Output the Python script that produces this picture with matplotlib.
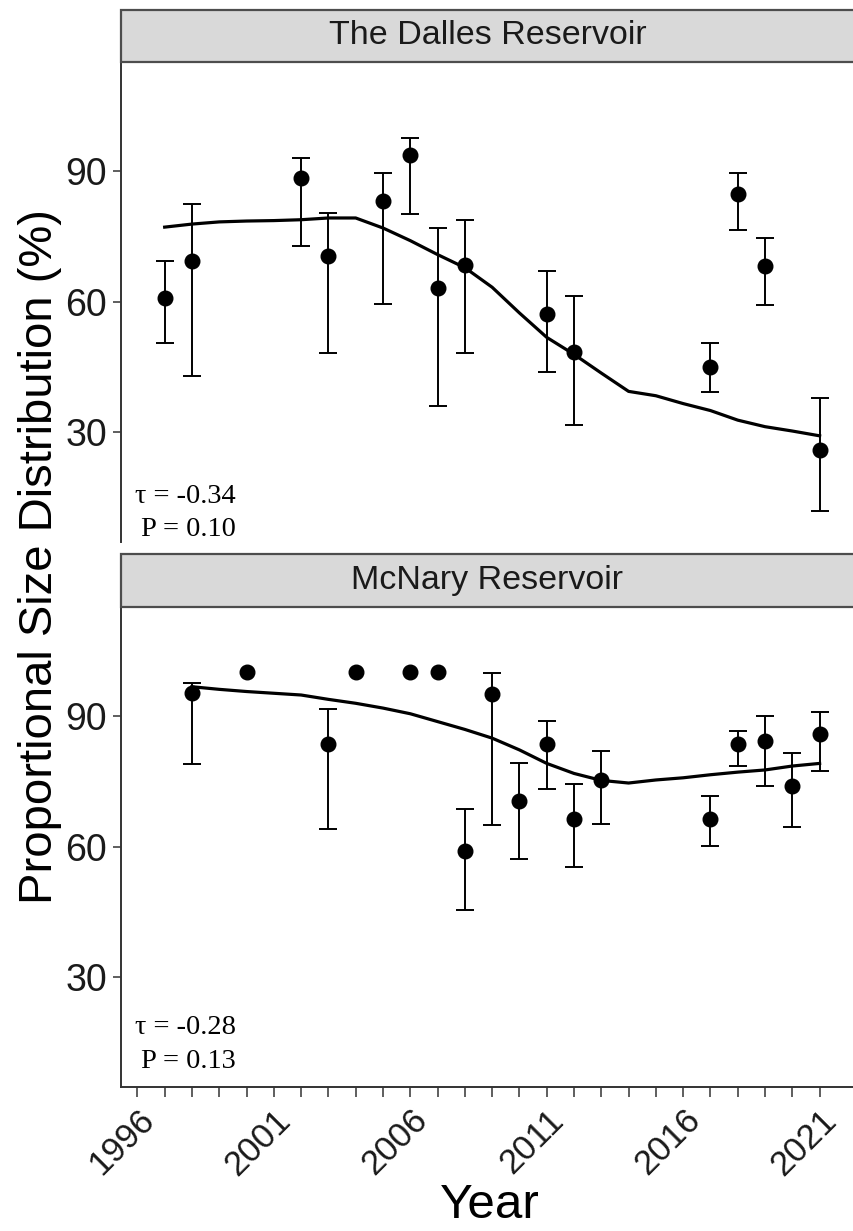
import numpy as np
import matplotlib
matplotlib.use("Agg")
import matplotlib.pyplot as plt
from matplotlib.patches import Rectangle

# ---------------- data ----------------
years_td = [1997, 1998, 2002, 2003, 2005, 2006, 2007, 2008, 2011, 2012, 2017, 2018, 2019, 2021]
psd_td = [60.9, 69.3, 88.4, 70.4, 83.0, 93.7, 63.2, 68.5, 57.2, 48.5, 45.0, 84.6, 68.1, 26.0]
lo_td = [50.4, 43.0, 72.7, 48.1, 59.4, 80.0, 36.1, 48.1, 43.9, 31.7, 39.3, 76.5, 59.2, 11.9]
hi_td = [69.3, 82.4, 92.9, 80.3, 89.5, 97.5, 76.9, 78.8, 67.0, 61.3, 50.6, 89.5, 74.6, 37.8]

smooth_years_td = list(range(1997, 2022))
smooth_td = [77.1, 77.8, 78.3, 78.5, 78.6, 78.8, 79.2, 79.2, 76.9, 74.0, 70.8, 67.8, 63.3,
             57.4, 51.8, 47.9, 43.6, 39.4, 38.4, 36.6, 35.0, 32.8, 31.3, 30.3, 29.2]

years_mc = [1998, 2000, 2003, 2004, 2006, 2007, 2008, 2009, 2010, 2011, 2012, 2013, 2017, 2018, 2019, 2020, 2021]
psd_mc = [95.3, 100, 83.5, 100, 100, 100, 59.1, 95.0, 70.5, 83.5, 66.4, 75.2, 66.4, 83.5, 84.3, 74.0, 85.8]
lo_mc = [79.0, np.nan, 64.1, np.nan, np.nan, np.nan, 45.5, 65.0, 57.2, 73.2, 55.3, 65.2, 60.2, 78.6, 74.0, 64.5, 77.4]
hi_mc = [97.6, np.nan, 91.5, np.nan, np.nan, np.nan, 68.6, 99.9, 79.3, 88.9, 74.4, 82.0, 71.7, 86.6, 90.0, 81.6, 90.8]

smooth_years_mc = list(range(1998, 2022))
smooth_mc = [96.7, 96.1, 95.6, 95.2, 94.8, 93.8, 92.9, 91.8, 90.5, 88.7, 86.9, 84.9, 82.2,
             79.1, 76.8, 75.2, 74.6, 75.3, 75.8, 76.5, 77.1, 77.6, 78.5, 79.1]

panel_titles = ["The Dalles Reservoir", "McNary Reservoir"]
tau_labels = ["\u03c4 = -0.34", "\u03c4 = -0.28"]
p_labels = ["P = 0.10", "P = 0.13"]
y_ticks = [30, 60, 90]
x_label_years = [1996, 2001, 2006, 2011, 2016, 2021]

# ---------------- layout ----------------
W, H = 854, 1231
fig = plt.figure(figsize=(W / 100, H / 100), dpi=100)
plt.rcParams['font.family'] = ['Liberation Sans', 'DejaVu Sans']

left_px, right_px = 121, 856
panels_px = [(62, 541.7), (607, 1086.7)]
strips_px = [(10, 62), (554, 607)]

def fx(px):
    return px / W

def fy(py):
    return 1 - py / H

xlim = (1995.40, 1995.40 + (right_px - left_px) / 27.29)
ylim = (4.9, 115.0)

series = [
    (years_td, psd_td, lo_td, hi_td, smooth_years_td, smooth_td),
    (years_mc, psd_mc, lo_mc, hi_mc, smooth_years_mc, smooth_mc),
]
annot_y = [(15.2, 7.7), (18.4, 10.6)]

axes = []
for i, (top, bot) in enumerate(panels_px):
    ax = fig.add_axes([fx(left_px), fy(bot), fx(right_px - left_px), (bot - top) / H])
    axes.append(ax)
    yrs, val, lo, hi, syr, sval = series[i]
    yrs_a = np.array(yrs, float)
    val_a = np.array(val, float)
    lo_a = np.array(lo, float)
    hi_a = np.array(hi, float)
    m = ~np.isnan(lo_a)
    ax.errorbar(yrs_a[m], val_a[m], yerr=[val_a[m] - lo_a[m], hi_a[m] - val_a[m]],
                fmt='none', ecolor='black', elinewidth=1.4, capsize=6.5, capthick=1.4, zorder=2)
    ax.plot(syr, sval, color='black', lw=2.3, zorder=3)
    ax.plot(yrs_a, val_a, 'o', color='black', markersize=10.5, zorder=4)

    ax.set_xlim(*xlim)
    ax.set_ylim(*ylim)
    ax.set_yticks(y_ticks)
    ax.set_yticklabels([str(t) for t in y_ticks], fontsize=27, color='#1a1a1a')
    ax.tick_params(axis='y', length=6, width=1.1, color='#333333', pad=4)
    ax.spines['top'].set_visible(False)
    ax.spines['right'].set_visible(False)
    ax.spines['left'].set_color('#333333')
    ax.spines['left'].set_linewidth(1.4)
    ax.set_xticks(list(range(1996, 2022)))
    if i == 0:
        ax.spines['bottom'].set_visible(False)
        ax.tick_params(axis='x', bottom=False, labelbottom=False)
    else:
        ax.spines['bottom'].set_color('#333333')
        ax.spines['bottom'].set_linewidth(1.4)
        ax.set_xticklabels([str(y) if y in x_label_years else '' for y in range(1996, 2022)],
                           rotation=45, ha='right', va='top', rotation_mode='anchor',
                           fontsize=25, color='#1a1a1a')
        ax.tick_params(axis='x', length=7, width=1.1, color='#333333', pad=5)

    ax.text(1999.62, annot_y[i][0], tau_labels[i], ha='right', va='center',
            fontsize=20.5, family=['Liberation Serif', 'DejaVu Serif'])
    ax.text(1999.62, annot_y[i][1], p_labels[i], ha='right', va='center',
            fontsize=20.5, family=['Liberation Serif', 'DejaVu Serif'])

    # strip
    stop, sbot = strips_px[i]
    sax = fig.add_axes([fx(left_px), fy(sbot), fx(right_px - left_px), (sbot - stop) / H])
    sax.set_xlim(0, 1)
    sax.set_ylim(0, 1)
    sax.axis('off')
    sax.add_patch(Rectangle((0, 0), 1, 1, transform=sax.transAxes, facecolor='#d9d9d9',
                            edgecolor='#4d4d4d', linewidth=1.6, clip_on=False))
    sax.text((487.5 - left_px) / (right_px - left_px), 0.5, panel_titles[i], ha='center',
             va='center', fontsize=24.5, color='#1a1a1a')

fig.text(fx(40), fy(557), "Proportional Size Distribution (%)", rotation=90,
         ha='center', va='center', fontsize=34, color='black')
fig.text(fx(490), fy(1205), "Year", ha='center', va='center', fontsize=35.5, color='black')

fig.savefig("out.png", dpi=100)
